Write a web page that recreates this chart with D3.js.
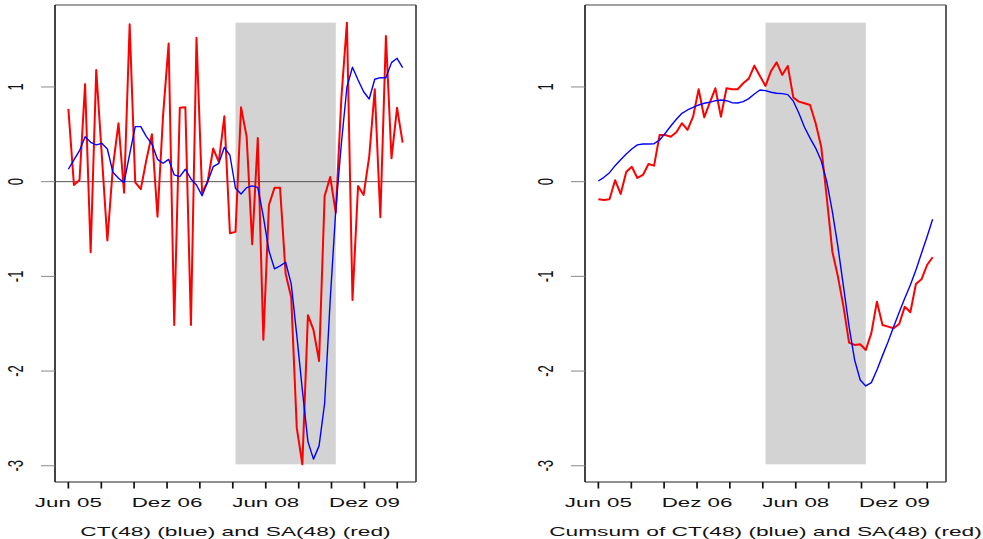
<!DOCTYPE html>
<html>
<head>
<meta charset="utf-8">
<script src="https://cdn.jsdelivr.net/npm/d3@7"></script>
<style>
  html, body { margin: 0; padding: 0; background: #fff; }
  svg { display: block; }
</style>
</head>
<body>
<div id="chart"></div>
<script>
// CT(48) and SA(48) monthly series, plus their cumulative sums (right panel)
const CT = [0.131, 0.229, 0.327, 0.475, 0.416, 0.388, 0.405, 0.345, 0.099, 0.036,
  -0.01, 0.29, 0.581, 0.581, 0.475, 0.398, 0.236, 0.194, 0.236, 0.071,
  0.053, 0.131, 0.029, -0.035, -0.148, 0.0, 0.158, 0.194, 0.363, 0.279,
  -0.07, -0.13, -0.063, -0.045, -0.06, -0.37, -0.73, -0.92, -0.89, -0.851,
  -1.08, -1.62, -2.2, -2.745, -2.93, -2.79, -2.34, -1.25, -0.3, 0.4,
  1.0, 1.208, 1.074, 0.95, 0.873, 1.081, 1.098, 1.098, 1.257, 1.303, 1.204];

const SA = [0.768, -0.035, 0.018, 1.03, -0.745, 1.18, 0.28, -0.62, 0.16, 0.617,
  -0.116, 1.662, -0.007, -0.08, 0.23, 0.5, -0.37, 0.7, 1.46, -1.513,
  0.78, 0.785, -1.513, 1.52, -0.116, 0.0, 0.35, 0.21, 0.69, -0.545,
  -0.53, 0.785, 0.475, -0.66, 0.46, -1.67, -0.246, -0.065, -0.065, -0.973,
  -1.22, -2.6, -2.985, -1.41, -1.566, -1.893, -0.151, 0.05, -0.327, 0.88,
  1.679, -1.249, -0.045, -0.14, 0.264, 0.976, -0.376, 1.539, 0.247, 0.78, 0.412];

const CUM_CT = [0.007, 0.046, 0.095, 0.169, 0.232, 0.292, 0.345, 0.388, 0.398, 0.398,
  0.401, 0.44, 0.511, 0.588, 0.659, 0.722, 0.757, 0.785, 0.81, 0.828,
  0.838, 0.855, 0.863, 0.855, 0.834, 0.831, 0.845, 0.877, 0.926, 0.968,
  0.961, 0.944, 0.933, 0.93, 0.919, 0.85, 0.722, 0.575, 0.46, 0.355,
  0.22, 0.0, -0.317, -0.686, -1.109, -1.531, -1.883, -2.094, -2.157, -2.122,
  -1.988, -1.837, -1.69, -1.531, -1.379, -1.231, -1.091, -0.932, -0.756, -0.581, -0.397];

const CUM_SA = [-0.186, -0.193, -0.186, 0.015, -0.13, 0.102, 0.158, 0.039, 0.071, 0.187,
  0.169, 0.493, 0.493, 0.475, 0.521, 0.617, 0.546, 0.686, 0.976, 0.68,
  0.834, 0.986, 0.686, 0.986, 0.976, 0.976, 1.039, 1.088, 1.225, 1.116,
  1.011, 1.169, 1.26, 1.127, 1.222, 0.887, 0.845, 0.828, 0.81, 0.617,
  0.37, -0.17, -0.739, -1.003, -1.32, -1.7, -1.724, -1.717, -1.777, -1.6,
  -1.267, -1.513, -1.531, -1.548, -1.503, -1.32, -1.379, -1.08, -1.031, -0.88, -0.798];

const OBS_START = new Date(2005, 5, 1);
const OBS_END   = new Date(2010, 6, 1);
const RECESSION_OBS = [30, 48];   // first / last observation shaded

const TICK_DATES = [
  new Date(2005, 5, 1), new Date(2005, 11, 1), new Date(2006, 5, 1), new Date(2006, 11, 1),
  new Date(2007, 5, 1), new Date(2007, 11, 1), new Date(2008, 5, 1), new Date(2008, 11, 1),
  new Date(2009, 5, 1), new Date(2009, 11, 1), new Date(2010, 5, 1)
];
const TICK_LABELS = ['Jun 05', '', '', 'Dez 06', '', '', 'Jun 08', '', '', 'Dez 09', ''];
const Y_TICKS = [1, 0, -1, -2, -3];

const PANELS = [
  { blue: CT,     red: SA,     label: 'CT(48) (blue) and SA(48) (red)',           x0: 55,  x1: 416, zero: true },
  { blue: CUM_CT, red: CUM_SA, label: 'Cumsum of CT(48) (blue) and SA(48) (red)', x0: 585, x1: 946, zero: false },
];

const W = 983, H = 539;
const TOP = 5, BOTTOM = 482;
const SX = 1.72;   // the reference is stretched horizontally
const FONT = '"Liberation Sans", Arial, Helvetica, sans-serif';

const svg = d3.select('#chart')
  .append('svg')
  .attr('width', W)
  .attr('height', H);

const n = SA.length;
const step = (OBS_END - OBS_START) / (n - 1);
const dates = d3.range(n).map(i => new Date(+OBS_START + i * step));

const span = OBS_END - OBS_START;
const xDomain = [new Date(+OBS_START - 0.04 * span), new Date(+OBS_END + 0.04 * span)];

const [saMin, saMax] = d3.extent(SA);
const yPad = 0.04 * (saMax - saMin);
const y = d3.scaleLinear().domain([saMin - yPad, saMax + yPad]).range([BOTTOM, TOP]);

function drawPanel(p) {
  const x = d3.scaleTime().domain(xDomain).range([p.x0, p.x1]);
  const g = svg.append('g');

  // recession shading
  g.append('rect')
    .attr('x', x(dates[RECESSION_OBS[0]]))
    .attr('y', y(saMax))
    .attr('width', x(dates[RECESSION_OBS[1]]) - x(dates[RECESSION_OBS[0]]))
    .attr('height', y(saMin) - y(saMax))
    .attr('fill', '#d3d3d3');

  if (p.zero) {
    g.append('line')
      .attr('x1', p.x0).attr('x2', p.x1)
      .attr('y1', y(0)).attr('y2', y(0))
      .attr('stroke', '#555')
      .attr('stroke-width', 1);
  }

  const line = d3.line()
    .x((d, i) => x(dates[i]))
    .y(d => y(d));

  g.append('path')
    .attr('d', line(p.red))
    .attr('fill', 'none')
    .attr('stroke', '#ff0000')
    .attr('stroke-width', 2)
    .attr('stroke-linejoin', 'round');

  g.append('path')
    .attr('d', line(p.blue))
    .attr('fill', 'none')
    .attr('stroke', '#0000ff')
    .attr('stroke-width', 1.4)
    .attr('stroke-linejoin', 'round');

  // box
  g.append('line').attr('x1', p.x0).attr('x2', p.x1).attr('y1', TOP).attr('y2', TOP)
    .attr('stroke', '#444').attr('stroke-width', 1);
  g.append('line').attr('x1', p.x0).attr('x2', p.x1).attr('y1', BOTTOM).attr('y2', BOTTOM)
    .attr('stroke', '#222').attr('stroke-width', 1);
  g.append('line').attr('x1', p.x0).attr('x2', p.x0).attr('y1', TOP).attr('y2', BOTTOM)
    .attr('stroke', '#222').attr('stroke-width', 1.7);
  g.append('line').attr('x1', p.x1).attr('x2', p.x1).attr('y1', TOP).attr('y2', BOTTOM)
    .attr('stroke', '#444').attr('stroke-width', 1.7);

  // y axis
  Y_TICKS.forEach(t => {
    g.append('line')
      .attr('x1', p.x0 - 14).attr('x2', p.x0)
      .attr('y1', y(t)).attr('y2', y(t))
      .attr('stroke', '#888')
      .attr('stroke-width', 1);
    g.append('text')
      .attr('transform', `translate(${p.x0 - 32.3},${y(t)}) scale(${SX},1) rotate(-90)`)
      .attr('text-anchor', 'middle')
      .attr('font-family', FONT)
      .attr('font-size', 13)
      .attr('fill', '#111')
      .text(t);
  });

  // x axis
  TICK_DATES.forEach((d, i) => {
    g.append('line')
      .attr('x1', x(d)).attr('x2', x(d))
      .attr('y1', BOTTOM).attr('y2', BOTTOM + 6.5)
      .attr('stroke', '#111')
      .attr('stroke-width', 1.7);
    if (TICK_LABELS[i]) {
      g.append('text')
        .attr('transform', `translate(${x(d)},507.3) scale(${SX},1)`)
        .attr('text-anchor', 'middle')
        .attr('font-family', FONT)
        .attr('font-size', 13)
        .attr('fill', '#111')
        .text(TICK_LABELS[i]);
    }
  });

  g.append('text')
    .attr('transform', `translate(${(p.x0 + p.x1) / 2},535.5) scale(${SX},1)`)
    .attr('text-anchor', 'middle')
    .attr('font-family', FONT)
    .attr('font-size', 13.2)
    .attr('fill', '#111')
    .text(p.label);
}

PANELS.forEach(drawPanel);
</script>
</body>
</html>
